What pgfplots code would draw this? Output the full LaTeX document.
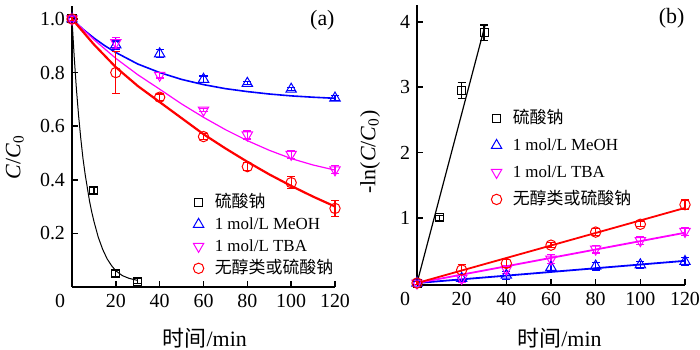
\documentclass[border=0pt]{standalone}
\usepackage{fontspec}
\setmainfont{Liberation Serif}
\newfontfamily\cjk{Noto Sans CJK SC}
\usepackage{pgfplots}
\pgfplotsset{compat=1.18}
\usepackage{pgfplotstable}

\definecolor{cblue}{RGB}{0,0,255}
\definecolor{cmag}{RGB}{255,0,255}
\definecolor{cred}{RGB}{255,0,0}

% panel (a) data: t, C/C0, error
\pgfplotstableread{
t v e
0 1.0 0.01
10 0.36 0.012
20 0.05 0.012
30 0.022 0.01
}\aBlack
\pgfplotstableread{
t v e
0 1.0 0.01
20 0.903 0.015
40 0.87 0.015
60 0.775 0.012
80 0.76 0.006
100 0.738 0.006
120 0.705 0.01
}\aBlue
\pgfplotstableread{
t v e
0 1.0 0.01
20 0.912 0.02
40 0.79 0.01
60 0.66 0.006
80 0.567 0.015
100 0.495 0.015
120 0.437 0.015
}\aMag
\pgfplotstableread{
t v e
0 1.0 0.006
20 0.80 0.078
40 0.708 0.012
60 0.561 0.012
80 0.449 0.015
100 0.389 0.023
120 0.293 0.03
}\aRed
% panel (b) data: t, -ln(C/C0), error
\pgfplotstableread{
t v e
0 0 0.02
10 1.0 0.04
20 2.95 0.12
30 3.83 0.12
}\bBlack
\pgfplotstableread{
t v e
0 0 0.02
20 0.07 0.04
40 0.12 0.06
60 0.24 0.06
80 0.26 0.06
100 0.28 0.05
120 0.33 0.06
}\bBlue
\pgfplotstableread{
t v e
0 0 0.02
20 0.07 0.06
40 0.21 0.06
60 0.365 0.07
80 0.52 0.06
100 0.65 0.06
120 0.79 0.06
}\bMag
\pgfplotstableread{
t v e
0 0 0.02
20 0.2 0.08
40 0.30 0.06
60 0.58 0.04
80 0.78 0.05
100 0.9 0.04
120 1.2 0.07
}\bRed

\pgfplotsset{
  base/.style={
    scale only axis,
    axis lines=left,
    axis line style={line width=1bp,-},
    tick align=inside,
    major tick length=3bp,
    tick style={line width=0.8bp,black},
    tick label style={font=\fontsize{10}{12}\selectfont},
    /pgf/number format/assume math mode=true,
    xmin=0, xmax=120,
    xtick={0,20,...,120},
    xticklabels={\llap{0\hspace{3.5bp}},20,40,60,80,100,120},
    clip=false,
    label style={font=\fontsize{11}{13}\selectfont},
    legend style={draw=none, fill=none, font=\fontsize{8.5}{10}\selectfont,
      cells={anchor=west}, inner sep=0pt, column sep=5.5bp,
      nodes={inner sep=0pt, text height=7bp, text depth=2bp}},
    legend image code/.code={\draw[##1] plot coordinates {(0bp,0bp)};},
  },
  pts/.style={only marks, line width=0.5bp,
    error bars/y dir=both, error bars/y explicit,
    error bars/error bar style={line width=0.6bp},
    error bars/error mark options={rotate=90, mark size=2bp, line width=0.6bp}},
}

\begin{document}
\begin{tikzpicture}
\useasboundingbox (0,0) rectangle (350bp,175bp);
% ---------------- panel (a)
\begin{axis}[base,
  at={(36bp,31.55bp)}, anchor=south west,
  width=131.5bp, height=140.65bp,
  ymin=0, ymax=1.05,
  ytick={0.2,0.4,0.6,0.8,1.0},
  yticklabel style={/pgf/number format/.cd, fixed, fixed zerofill, precision=1},
  xlabel={{\cjk 时间}/min},
  xlabel style={at={(axis description cs:0.505,-0.181)}, anchor=center},
  ylabel={\textit{C}/\textit{C}\textsubscript{0}},
  ylabel style={at={(axis description cs:-0.217,0.462)}, anchor=center},
  legend style={at={(axis description cs:0.46,0.334)}, anchor=north west, row sep=2bp},
]
\addplot[black, line width=0.5bp, forget plot] coordinates {
(0,1) (1,0.86) (2,0.74) (3,0.64) (4,0.555) (5,0.48) (6,0.42) (7,0.37) (8,0.32)
(9,0.28) (10,0.245) (12,0.185) (14,0.14) (16,0.105) (18,0.08) (20,0.06)
(23,0.042) (26,0.032) (30,0.024)};
\addplot[cblue, line width=0.8bp, forget plot] coordinates {
(0,1) (5,0.962) (10,0.929) (15,0.900) (20,0.875) (30,0.832) (40,0.80) (50,0.7745)
(60,0.755) (70,0.740) (80,0.729) (90,0.720) (100,0.713) (110,0.708) (120,0.704)};
\addplot[cmag, line width=0.6bp, forget plot] coordinates {
(0,1) (10,0.923) (20,0.853) (30,0.792) (40,0.738) (50,0.683) (60,0.633) (70,0.587)
(80,0.546) (90,0.51) (100,0.479) (110,0.455) (120,0.436)};
\addplot[cred, line width=1.1bp, forget plot] coordinates {
(0,1) (10,0.905) (20,0.82) (30,0.75) (40,0.69) (50,0.63) (60,0.57) (70,0.517)
(80,0.467) (90,0.42) (100,0.377) (110,0.337) (120,0.30)};
\addplot[black, pts, mark=square, mark size=2bp] table[x=t,y=v,y error=e] {\aBlack};
\addplot[cblue, pts, mark=triangle, mark size=3bp] table[x=t,y=v,y error=e] {\aBlue};
\addplot[cmag, pts, mark=triangle, mark options={rotate=180}, mark size=3bp] table[x=t,y=v,y error=e] {\aMag};
\addplot[cred, pts, mark=o, mark size=2.6bp] table[x=t,y=v,y error=e] {\aRed};
\legend{{\cjk 硫酸钠}, 1 mol/L MeOH, 1 mol/L TBA, {\cjk 无醇类或硫酸钠}}
\node[font=\fontsize{11}{13}\selectfont] at (axis description cs:0.952,0.949) {(a)};
\end{axis}
% ---------------- panel (b)
\begin{axis}[base,
  at={(208.5bp,32.5bp)}, anchor=south west,
  width=134bp, height=140.1bp,
  ymin=-0.03, ymax=4.26,
  ytick={1,2,3,4},
  xlabel={{\cjk 时间}/min},
  xlabel style={at={(axis description cs:0.532,-0.189)}, anchor=center},
  ylabel={-ln(\textit{C}/\textit{C}\textsubscript{0})},
  ylabel style={at={(axis description cs:-0.175,0.475)}, anchor=center},
  legend style={at={(axis description cs:0.276,0.628)}, anchor=north west, row sep=4.5bp},
]
\addplot[black, line width=0.6bp, forget plot] coordinates {(0,0) (30.5,3.95)};
\addplot[cblue, line width=0.9bp, forget plot] coordinates {(0,0) (120,0.34)};
\addplot[cmag, line width=0.9bp, forget plot] coordinates {(0,0) (120,0.77)};
\addplot[cred, line width=0.9bp, forget plot] coordinates {(0,0) (120,1.15)};
\addplot[black, pts, mark=square, mark size=2bp] table[x=t,y=v,y error=e] {\bBlack};
\addplot[cblue, pts, mark=triangle, mark size=3bp] table[x=t,y=v,y error=e] {\bBlue};
\addplot[cmag, pts, mark=triangle, mark options={rotate=180}, mark size=3bp] table[x=t,y=v,y error=e] {\bMag};
\addplot[cred, pts, mark=o, mark size=2.6bp] table[x=t,y=v,y error=e] {\bRed};
\legend{{\cjk 硫酸钠}, 1 mol/L MeOH, 1 mol/L TBA, {\cjk 无醇类或硫酸钠}}
\node[font=\fontsize{11}{13}\selectfont] at (axis description cs:0.95,0.951) {(b)};
\end{axis}
\end{tikzpicture}
\end{document}
